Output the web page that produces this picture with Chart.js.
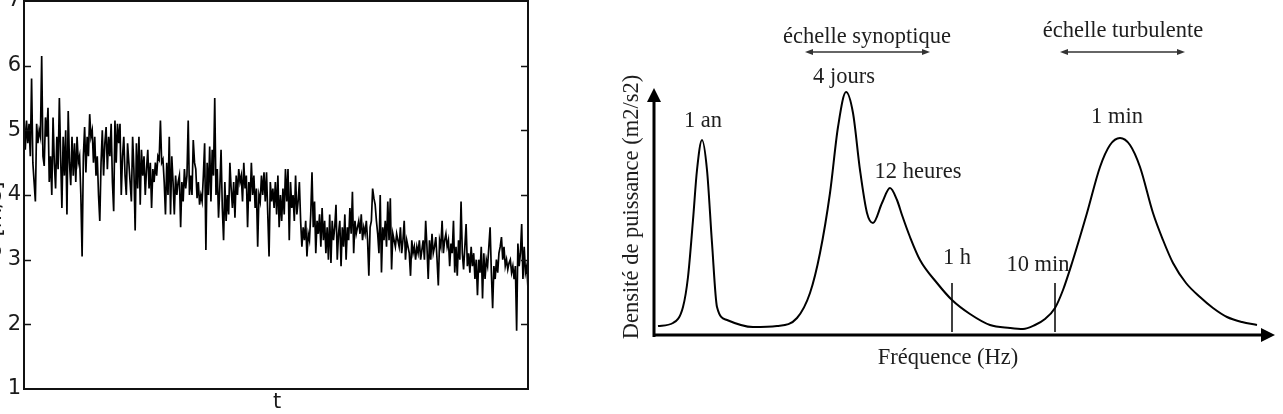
<!DOCTYPE html>
<html>
<head>
<meta charset="utf-8">
<script src="https://cdn.jsdelivr.net/npm/chart.js@4.4.1/dist/chart.umd.min.js"></script>
<style>
  html, body { margin: 0; padding: 0; background: #fff; }
  #wrap { position: relative; width: 1283px; height: 414px; overflow: hidden; }
  #c1 { position: absolute; left: 0; top: 0; }
  #c2 { position: absolute; left: 560px; top: 0; }
</style>
</head>
<body>
<div id="wrap">
  <canvas id="c1" width="560" height="414"></canvas>
  <canvas id="c2" width="723" height="414"></canvas>
</div>
<script>
// ---------- Left panel: wind speed time series ----------
const uValues = [
  5.2, 4.7, 5.15, 4.8, 5.1, 4.6, 5.8, 4.5, 4.2, 3.9,
  5.1, 4.8, 5.0, 4.9, 6.15, 4.6, 4.45, 5.2, 4.9, 5.35,
  4.2, 4.6, 4.0, 5.2, 4.5, 4.1, 4.9, 4.4, 5.5, 4.6,
  3.8, 4.9, 4.3, 5.0, 3.7, 5.3, 4.5, 4.15, 4.9, 4.3,
  4.8, 4.2, 4.9, 4.5, 4.6, 4.0, 3.05, 4.6, 5.05, 4.35,
  4.9, 4.6, 5.25, 4.9, 5.0, 4.5, 4.9, 4.3, 4.6, 4.0,
  3.6, 4.5, 5.0, 4.3, 4.8, 5.05, 4.4, 4.9, 4.6, 5.1,
  4.2, 3.75, 5.15, 4.5, 5.1, 4.8, 5.1, 4.0, 4.6, 4.9,
  4.3, 4.0, 4.8, 4.5, 4.2, 3.9, 4.9, 4.4, 3.45, 4.8,
  4.1, 4.9, 3.85, 4.7, 4.3, 4.6, 4.0, 4.4, 4.7, 4.1,
  4.5, 3.8, 4.4, 4.2, 4.5, 4.3, 4.6, 4.55, 5.15, 4.5,
  4.55, 4.2, 3.7, 4.5, 4.0, 4.9, 3.7, 4.6, 4.2, 3.7,
  4.3, 4.0, 4.2, 4.3, 3.5, 4.2, 3.9, 4.4, 4.1, 4.3,
  5.15, 4.0, 4.3, 4.0, 4.85, 4.5, 4.4, 3.95, 4.2, 3.85,
  4.0, 3.9, 4.3, 4.8, 3.15, 4.5, 4.0, 4.75, 3.9, 4.7,
  4.3, 5.5, 4.0, 4.4, 3.65, 4.1, 4.7, 3.8, 3.3, 4.2,
  3.6, 4.0, 3.7, 4.5, 4.1, 3.8, 4.2, 3.65, 4.3, 4.0,
  4.4, 4.2, 4.3, 3.9, 4.5, 4.1, 4.3, 3.5, 4.2, 3.9,
  4.5, 4.0, 4.3, 3.8, 4.1, 3.2, 4.0, 3.9, 4.3, 4.0,
  4.35, 3.9, 4.35, 3.7, 3.05, 4.2, 3.9, 4.1, 3.8, 4.2,
  3.7, 4.3, 3.5, 4.0, 3.6, 4.1, 3.7, 4.4, 3.9, 4.4,
  3.3, 4.2, 3.8, 4.0, 3.6, 4.3, 3.7, 3.9, 4.2, 3.6,
  3.2, 3.5, 3.3, 3.6, 3.05, 3.4, 3.3, 3.7, 4.35, 3.5,
  3.9, 3.1, 3.6, 3.4, 3.7, 3.2, 3.8, 3.3, 3.6, 3.1,
  3.5, 3.0, 3.7, 2.95, 3.6, 3.3, 3.5, 3.85, 3.0, 3.4,
  3.6, 2.9, 3.5, 3.2, 3.7, 3.0, 3.5, 3.3, 3.8, 3.4,
  4.05, 3.1, 3.6, 3.4, 3.5, 3.6, 3.4, 3.7, 3.3, 3.5,
  3.4, 3.6, 3.3, 2.75, 3.5, 3.6, 4.1, 3.95, 3.85, 3.6,
  3.4, 3.1, 4.0, 2.8, 3.5, 3.3, 3.6, 3.2, 3.9, 3.3,
  3.95, 2.85, 3.4, 3.3, 3.2, 3.4, 3.3, 3.2, 3.5, 3.1,
  3.3, 3.6, 3.0, 3.3, 3.2, 3.1, 2.75, 3.3, 3.1, 3.2,
  3.0, 3.2, 3.1, 3.3, 3.0, 3.15, 3.3, 3.0, 3.6, 3.2,
  2.7, 3.3, 3.0, 3.4, 3.1, 3.2, 3.35, 3.0, 2.6, 3.3,
  3.2, 3.6, 3.1, 3.3, 3.4, 3.2, 3.3, 2.9, 3.25, 3.1,
  3.6, 2.8, 3.2, 2.75, 3.3, 3.0, 3.9, 3.1, 2.85, 3.2,
  3.55, 2.9, 3.1, 2.8, 3.2, 2.9, 3.1, 2.7, 3.0, 2.45,
  3.0, 2.8, 3.2, 2.4, 3.1, 2.7, 3.0, 2.9, 3.2, 3.5,
  2.8, 2.25, 2.9, 2.7, 3.0, 2.8, 3.1, 3.2, 3.35, 3.0,
  3.2, 2.9, 3.0, 2.85, 2.95, 3.0, 2.8, 2.9, 2.7, 2.9,
  1.9, 3.25, 2.9, 3.1, 3.55, 2.7, 3.2, 2.8, 2.9, 2.55
];
const tLabels = uValues.map((_, i) => i);
const uTicks = [1, 2, 3, 4, 5, 6, 7];
const xTitle = 't';
const yTitle = 'U [m/s]';

// ---------- Right panel: schematic power spectrum ----------
const specX = [4, 19, 29, 34, 39, 43, 48, 53, 58, 63, 73, 99, 123, 143, 156, 166, 176, 184, 192, 199,
               206, 213, 219, 228, 236, 243, 248, 256, 266, 283, 298, 316, 336, 356, 369, 381, 391, 401,
               409, 418, 433, 446, 456, 466, 476, 486, 499, 509, 519, 532, 546, 559, 573, 588, 603];
const specY = [9, 12, 28, 58, 115, 165, 195, 165, 92, 28, 15, 8, 9, 17, 42, 82, 142, 208, 243, 222,
               165, 122, 112, 132, 147, 135, 120, 98, 75, 52, 35, 21, 10, 7, 6, 10, 16, 27,
               45, 72, 122, 168, 190, 197, 190, 168, 122, 95, 72, 52, 38, 27, 18, 13, 10];
const markerX = [298, 401];          // 1 h, 10 min
const markerSpan = [3, 52];
const peakLabels = ['1 an', '4 jours', '12 heures', '1 h', '10 min', '1 min'];
const peakLabelX = [49, 190, 264, 303, 384, 463];
const peakLabelY = [214, 258, 163, 77, 70, 218];
const scaleLabels = ['échelle synoptique', 'échelle turbulente'];
const scaleLabelX = [213, 469];
const scaleLabelY = [298, 304];
const scaleArrowFrom = [151, 406];
const scaleArrowTo = [276, 531];
const scaleArrowY = 283;
const freqTitle = 'Fréquence (Hz)';
const densTitle = 'Densité de puissance (m2/s2)';

// ======== Left chart ========
const leftPlugin = {
  id: 'leftDecor',
  afterDraw(chart) {
    const { ctx, chartArea: a, scales: { y } } = chart;
    ctx.save();
    ctx.strokeStyle = '#111';
    ctx.lineWidth = 2;
    ctx.strokeRect(a.left, a.top, a.right - a.left, a.bottom - a.top);
    ctx.lineWidth = 1.5;
    y.ticks.forEach(t => {
      if (t.value <= 1 || t.value >= 7) return;
      const py = Math.round(y.getPixelForValue(t.value)) + 0.5;
      ctx.beginPath();
      ctx.moveTo(a.left, py); ctx.lineTo(a.left + 7, py);
      ctx.moveTo(a.right - 7, py); ctx.lineTo(a.right, py);
      ctx.stroke();
    });
    ctx.fillStyle = '#1a1a1a';
    ctx.font = '21px "DejaVu Sans"';
    ctx.textAlign = 'center';
    ctx.textBaseline = 'middle';
    ctx.fillText(xTitle, (a.left + a.right) / 2 + 1, 403);
    ctx.translate(6, 220);
    ctx.rotate(-Math.PI / 2);
    ctx.textBaseline = 'bottom';
    ctx.fillText(yTitle, 0, 0);
    ctx.restore();
  }
};

new Chart(document.getElementById('c1'), {
  type: 'line',
  data: {
    labels: tLabels,
    datasets: [{
      data: uValues,
      borderColor: '#000',
      borderWidth: 1.7,
      pointRadius: 0,
      tension: 0,
      fill: false
    }]
  },
  options: {
    responsive: false,
    animation: false,
    events: [],
    layout: { padding: { top: 1, right: 32, left: 0, bottom: 0 } },
    plugins: { legend: { display: false }, tooltip: { enabled: false } },
    scales: {
      x: {
        type: 'category',
        offset: false,
        grid: { display: false },
        border: { display: false },
        ticks: { display: false },
        afterFit(s) { s.height = 25; s.paddingLeft = 0; s.paddingRight = 0; }
      },
      y: {
        min: 1, max: 7,
        afterBuildTicks(s) { s.ticks = uTicks.map(v => ({ value: v })); },
        grid: { display: false, drawTicks: false },
        border: { display: false },
        ticks: {
          padding: 3,
          color: '#1a1a1a',
          font: { family: 'DejaVu Sans', size: 21 },
          autoSkip: false
        },
        afterFit(s) { s.width = 24; s.paddingTop = 0; s.paddingBottom = 0; }
      }
    }
  },
  plugins: [leftPlugin]
});

// ======== Right chart ========
function arrowHead(ctx, x, y, dx, dy, len, half) {
  const bx = x - dx * len, by = y - dy * len;
  ctx.beginPath();
  ctx.moveTo(x, y);
  ctx.lineTo(bx - dy * half, by + dx * half);
  ctx.lineTo(bx + dy * half, by - dx * half);
  ctx.closePath();
  ctx.fill();
}

const rightPlugin = {
  id: 'rightDecor',
  afterDraw(chart) {
    const { ctx, scales: { x, y } } = chart;
    const X = v => x.getPixelForValue(v);
    const Y = v => y.getPixelForValue(v);
    ctx.save();
    ctx.strokeStyle = '#000';
    ctx.fillStyle = '#000';
    ctx.lineWidth = 3;
    ctx.beginPath();
    ctx.moveTo(X(0), Y(-2)); ctx.lineTo(X(0), Y(233));
    ctx.moveTo(X(0) - 1.5, Y(0)); ctx.lineTo(X(607), Y(0));
    ctx.stroke();
    arrowHead(ctx, X(0), Y(247), 0, -1, 14, 7);
    arrowHead(ctx, X(621), Y(0), 1, 0, 14, 7);
    ctx.strokeStyle = '#333';
    ctx.fillStyle = '#333';
    ctx.lineWidth = 1.5;
    for (let i = 0; i < scaleArrowFrom.length; i++) {
      const x0 = X(scaleArrowFrom[i]), x1 = X(scaleArrowTo[i]), py = Y(scaleArrowY);
      ctx.beginPath();
      ctx.moveTo(x0 + 4, py); ctx.lineTo(x1 - 4, py);
      ctx.stroke();
      arrowHead(ctx, x0, py, -1, 0, 8, 3);
      arrowHead(ctx, x1, py, 1, 0, 8, 3);
    }
    ctx.fillStyle = '#1e1e1e';
    ctx.font = '22.5px "Liberation Serif"';
    ctx.textAlign = 'center';
    ctx.textBaseline = 'middle';
    peakLabels.forEach((t, i) => ctx.fillText(t, X(peakLabelX[i]), Y(peakLabelY[i])));
    scaleLabels.forEach((t, i) => ctx.fillText(t, X(scaleLabelX[i]), Y(scaleLabelY[i])));
    ctx.fillText(freqTitle, X(294), Y(-23));
    ctx.translate(X(-22), Y(128));
    ctx.rotate(-Math.PI / 2);
    ctx.fillText(densTitle, 0, 0);
    ctx.restore();
  }
};

const markerSets = markerX.map(mx => ({
  data: markerSpan.map(v => ({ x: mx, y: v })),
  borderColor: '#000',
  borderWidth: 1.5,
  pointRadius: 0,
  tension: 0,
  fill: false
}));

new Chart(document.getElementById('c2'), {
  type: 'line',
  data: {
    datasets: [{
      data: specX.map((v, i) => ({ x: v, y: specY[i] })),
      borderColor: '#000',
      borderWidth: 2,
      pointRadius: 0,
      cubicInterpolationMode: 'monotone',
      fill: false
    }, ...markerSets]
  },
  options: {
    responsive: false,
    animation: false,
    events: [],
    layout: { padding: { left: 94, right: 8, top: 0, bottom: 79 } },
    plugins: { legend: { display: false }, tooltip: { enabled: false } },
    scales: {
      x: { type: 'linear', min: 0, max: 621, display: false },
      y: { type: 'linear', min: 0, max: 335, display: false }
    }
  },
  plugins: [rightPlugin]
});
</script>
</body>
</html>
